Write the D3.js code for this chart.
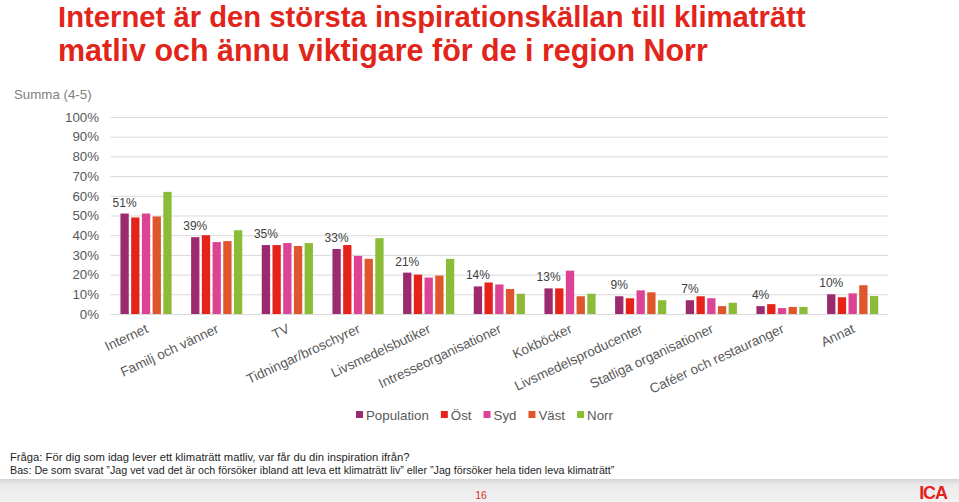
<!DOCTYPE html>
<html><head><meta charset="utf-8">
<script src="https://cdn.jsdelivr.net/npm/d3@7"></script>
<style>
body{margin:0;background:#fff;}
svg{display:block;font-family:"Liberation Sans",Arial,Helvetica,sans-serif;}
</style>
</head><body>
<svg id="c" width="959" height="502"></svg>
<script>
const titleLines = ["Internet är den största inspirationskällan till klimaträtt", "matliv och ännu viktigare för de i region Norr"];
const subtitle = "Summa (4-5)";
const categories = ["Internet","Familj och vänner","TV","Tidningar/broschyrer","Livsmedelsbutiker","Intresseorganisationer","Kokböcker","Livsmedelsproducenter","Statliga organisationer","Caféer och restauranger","Annat"];
const seriesNames = ["Population","Öst","Syd","Väst","Norr"];
const population = [51,39,35,33,21,14,13,9,7,4,10];
const ost  = [49,40,35,35,20,16,13,8,9,5,8.5];
const syd  = [51,36.5,36,29.5,18.5,15,22,12,8,3,10.5];
const vast = [49.5,37,34.5,28,19.5,12.7,9,11,4,3.6,14.6];
const norr = [62,42.5,36,38.5,28,10.3,10.3,7,5.7,3.6,9.1];
const yTicks = [0,10,20,30,40,50,60,70,80,90,100];
const colors = ["#9c2a6e","#e5231a","#dc4395","#e0562c","#8cbb38"];
const footerLines = ["Fråga: För dig som idag lever ett klimaträtt matliv, var får du din inspiration ifrån?",
  "Bas: De som svarat \u201dJag vet vad det är och försöker ibland att leva ett klimaträtt liv\u201d eller \u201dJag försöker hela tiden leva klimaträtt\u201d"];
const pageNumber = "16";

const seriesData = [population, ost, syd, vast, norr];
const svg = d3.select("#c");

function fitWidth(sel, target){
  const w = sel.node().getComputedTextLength();
  const fs = parseFloat(sel.attr("font-size"));
  sel.attr("font-size", (fs*target/w).toFixed(2));
}

// Title
titleLines.forEach((t,i)=>{
  const s = svg.append("text").attr("x",58).attr("y",27+i*33.5)
    .attr("font-size",28).attr("font-weight","bold").attr("fill","#e1251b").text(t);
  fitWidth(s, i===0 ? 748 : 650);
});
svg.append("text").attr("x",14).attr("y",99).attr("font-size",13.3).attr("fill","#7f7f7f").text(subtitle);

// Scales
const x0 = d3.scaleBand().domain(categories).range([110.7, 888]).padding(0);
const x1 = d3.scaleBand().domain(seriesNames).range([0, x0.bandwidth()]).paddingInner(0.224).paddingOuter(0.91);
const y = d3.scaleLinear().domain([0,100]).range([314,117]);

// Grid
svg.append("g").selectAll("line").data(yTicks).join("line")
  .attr("x1",110.7).attr("x2",888).attr("y1",d=>y(d)+0.5).attr("y2",d=>y(d)+0.5)
  .attr("stroke","#d9d9d9").attr("stroke-width",1);

// Y axis labels
const yAxis = d3.axisLeft(y).tickValues(yTicks).tickFormat(d=>d+"%").tickSize(0).tickPadding(0);
const ga = svg.append("g").attr("transform","translate(99,0)").call(yAxis);
ga.select(".domain").remove();
ga.selectAll("text").attr("font-size",13.3).attr("fill","#595959").attr("font-family","Liberation Sans, Arial, sans-serif");

// Bars
const groups = svg.append("g").selectAll("g").data(categories).join("g")
  .attr("transform",d=>`translate(${x0(d)},0)`);
groups.selectAll("rect").data((d,i)=>seriesNames.map((s,j)=>({s,j,v:seriesData[j][i]}))).join("rect")
  .attr("x",d=>x1(d.s)).attr("width",x1.bandwidth())
  .attr("y",d=>y(d.v)).attr("height",d=>y(0)-y(d.v))
  .attr("fill",d=>colors[d.j]);

// Data labels (Population)
svg.append("g").selectAll("text").data(categories).join("text")
  .attr("x",(d)=>x0(d)+x1("Population")+x1.bandwidth()/2)
  .attr("y",(d,i)=>y(population[i])-7)
  .attr("text-anchor","middle").attr("font-size",12).attr("fill","#404040")
  .text((d,i)=>Math.round(population[i])+"%");

// X labels
svg.append("g").selectAll("text").data(categories).join("text")
  .attr("transform",d=>`translate(${x0(d)+x0.bandwidth()/2+3},332) rotate(-25)`)
  .attr("text-anchor","end").attr("font-size",13.5).attr("fill","#595959").text(d=>d);

// Legend
let lx = 356;
const lg = svg.append("g");
seriesNames.forEach((s,i)=>{
  lg.append("rect").attr("x",lx).attr("y",411).attr("width",7).attr("height",7).attr("fill",colors[i]);
  const t = lg.append("text").attr("x",lx+10).attr("y",420).attr("font-size",13.3).attr("fill","#595959").text(s);
  lx += 10 + t.node().getComputedTextLength() + 12;
});

// Footer
footerLines.forEach((t,i)=>{
  const s = svg.append("text").attr("x",10).attr("y",461+i*12.5).attr("font-size",12).attr("fill","#1e1e1e").text(t);
  fitWidth(s, i===0 ? 400 : 605);
});

// Bottom band
const defs = svg.append("defs");
const gr = defs.append("linearGradient").attr("id","band").attr("x1",0).attr("x2",0).attr("y1",0).attr("y2",1);
gr.append("stop").attr("offset","0").attr("stop-color","#d4d4d4");
gr.append("stop").attr("offset","0.25").attr("stop-color","#ebebeb");
gr.append("stop").attr("offset","1").attr("stop-color","#f1f1f1");
svg.append("rect").attr("x",0).attr("y",479).attr("width",959).attr("height",23).attr("fill","url(#band)");
svg.append("text").attr("x",481).attr("y",499).attr("text-anchor","middle").attr("font-size",10.5).attr("fill","#d4342c").text(pageNumber);
svg.append("text").attr("x",933).attr("y",499).attr("text-anchor","middle").attr("font-size",18).attr("font-weight","bold")
  .attr("letter-spacing","-1.2").attr("fill","#e2231a").text("ICA");
</script>
</body></html>
